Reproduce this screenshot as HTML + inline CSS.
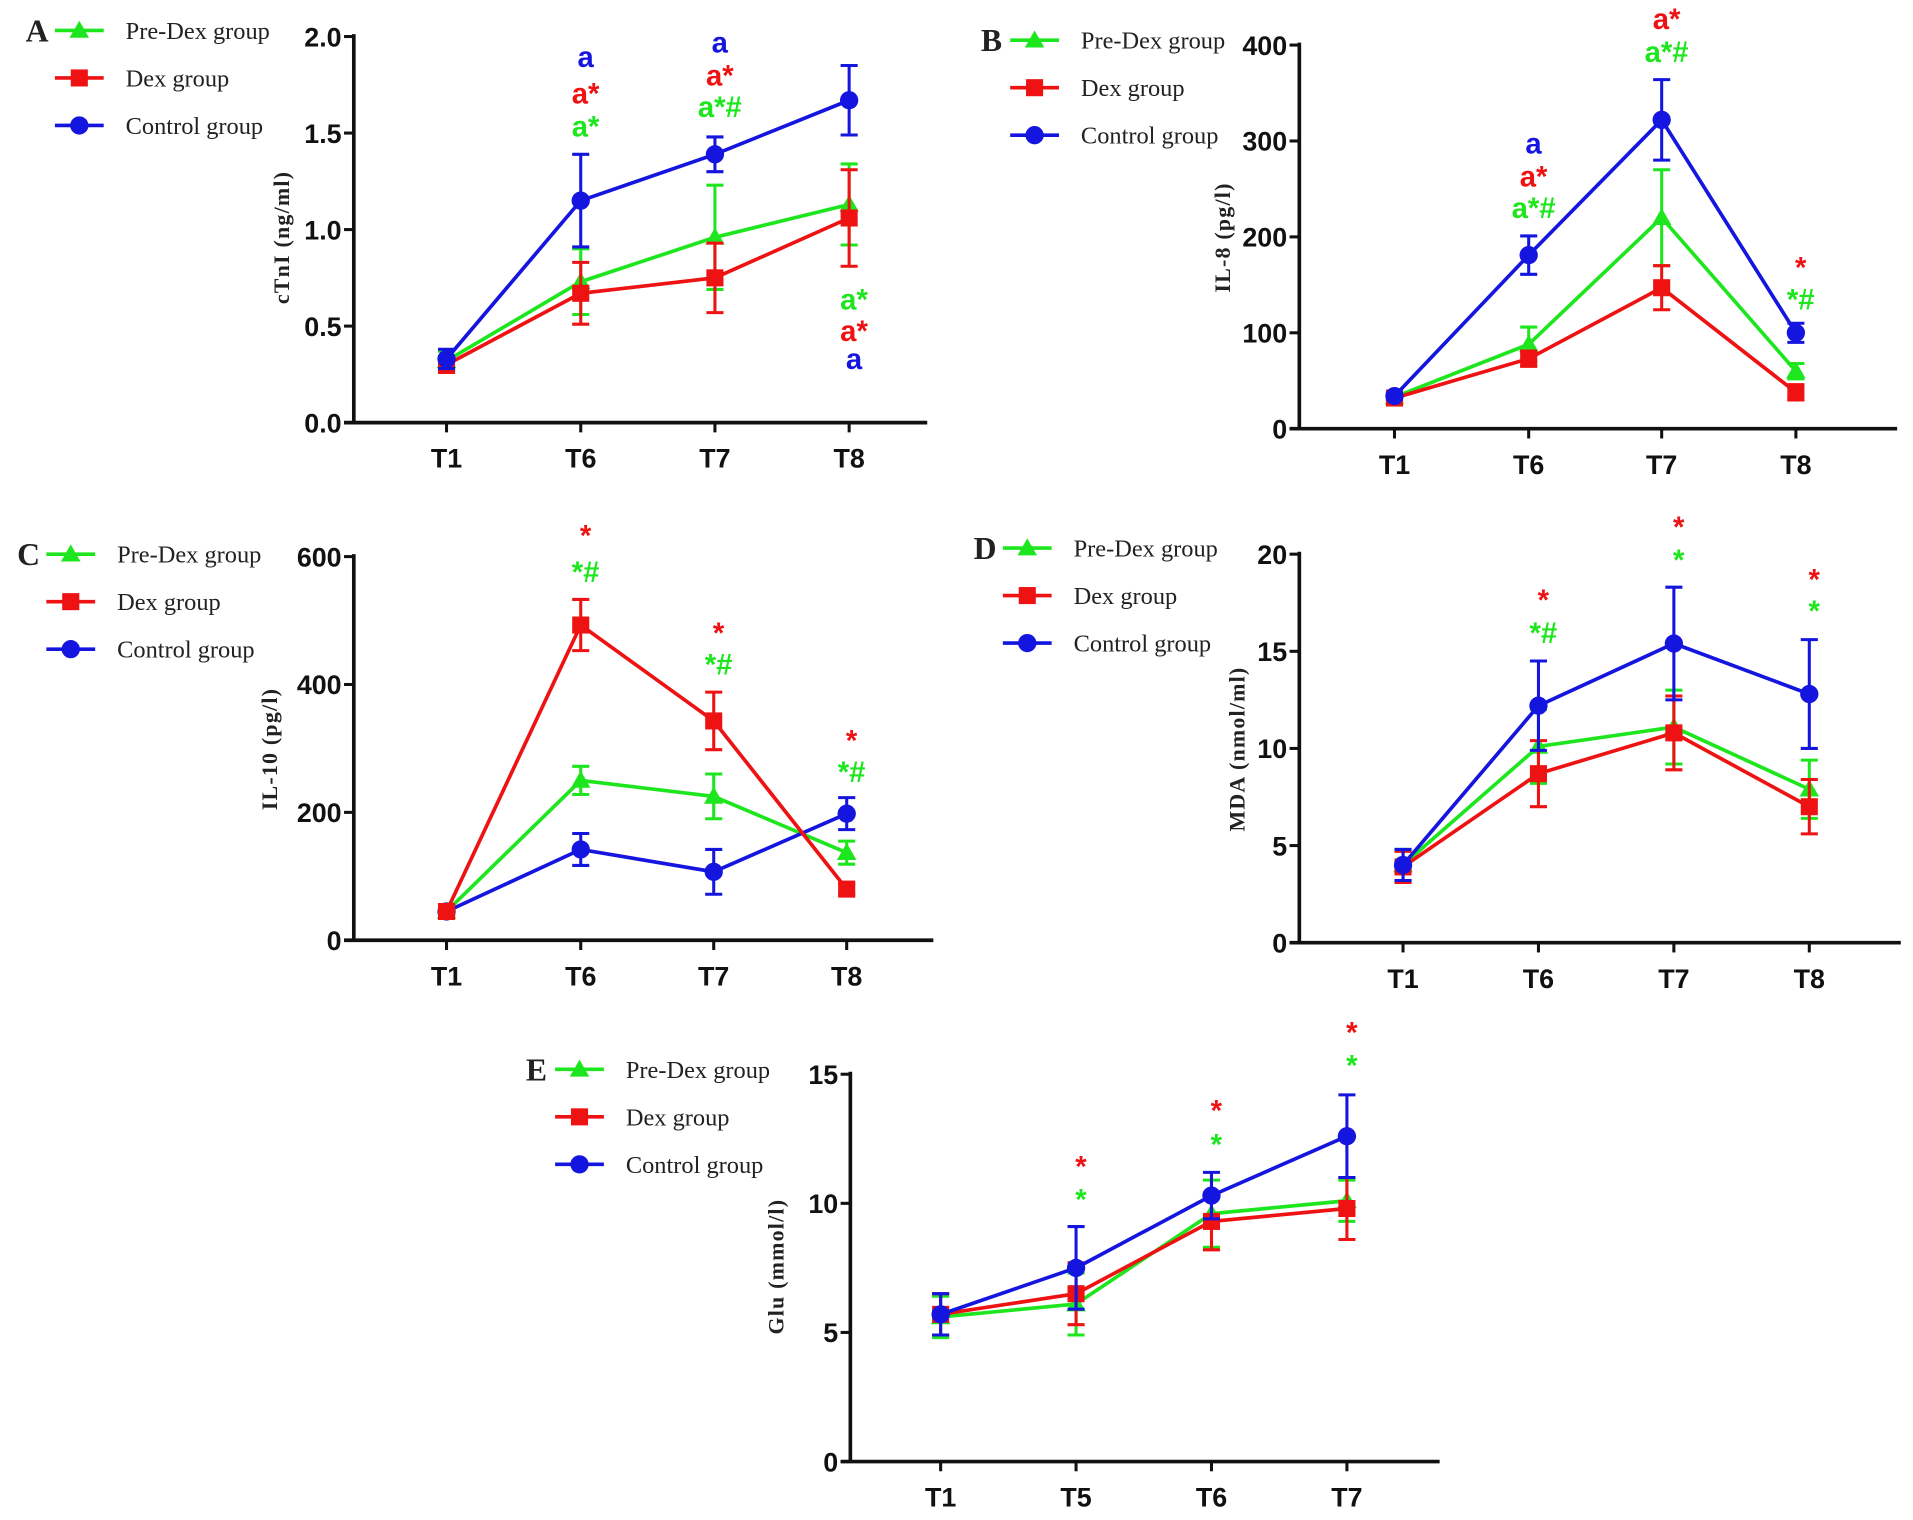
<!DOCTYPE html>
<html><head><meta charset="utf-8"><style>
html,body{margin:0;padding:0;background:#fff;}
svg{display:block;}
text{font-family:"Liberation Sans",Arial,sans-serif;}
.serif{font-family:"Liberation Serif","Times New Roman",serif;}
</style></head><body>
<svg id="fig" width="1913" height="1520" viewBox="0 0 1568 1248" preserveAspectRatio="none" xmlns="http://www.w3.org/2000/svg"></svg>
<script>
// ---- Data ----
const catsA = ["T1","T6","T7","T8"];
const preA = [0.32,0.73,0.96,1.13], preAErr=[0.05,0.17,0.27,0.21];
const dexA = [0.30,0.67,0.75,1.06], dexAErr=[0.04,0.16,0.18,0.25];
const conA = [0.33,1.15,1.39,1.67], conAErr=[0.05,0.24,0.09,0.18];
const ticksA = [0,0.5,1.0,1.5,2.0], tickLabA=["0.0","0.5","1.0","1.5","2.0"];

const catsB = ["T1","T6","T7","T8"];
const preB = [33,88,220,60], preBErr=[3,18,50,8];
const dexB = [32,73,147,38], dexBErr=[3,8,23,8];
const conB = [34,181,322,100], conBErr=[3,20,42,10];
const ticksB = [0,100,200,300,400], tickLabB=["0","100","200","300","400"];

const catsC = ["T1","T6","T7","T8"];
const preC = [45,250,225,137], preCErr=[5,22,35,18];
const dexC = [45,493,343,80], dexCErr=[5,40,45,8];
const conC = [45,142,107,198], conCErr=[5,25,35,25];
const ticksC = [0,200,400,600], tickLabC=["0","200","400","600"];

const catsD = ["T1","T6","T7","T8"];
const preD = [4.0,10.1,11.1,7.9], preDErr=[0.8,1.9,1.9,1.5];
const dexD = [3.9,8.7,10.8,7.0], dexDErr=[0.8,1.7,1.9,1.4];
const conD = [4.0,12.2,15.4,12.8], conDErr=[0.8,2.3,2.9,2.8];
const ticksD = [0,5,10,15,20], tickLabD=["0","5","10","15","20"];

const catsE = ["T1","T5","T6","T7"];
const preE = [5.6,6.1,9.6,10.1], preEErr=[0.8,1.2,1.3,0.8];
const dexE = [5.7,6.5,9.3,9.8], dexEErr=[0.8,1.2,1.1,1.2];
const conE = [5.7,7.5,10.3,12.6], conEErr=[0.8,1.6,0.9,1.6];
const ticksE = [0,5,10,15], tickLabE=["0","5","10","15"];

const G="#1ee61e", R="#ee1212", B="#1515e0";
const svg=document.getElementById('fig');
const NS="http://www.w3.org/2000/svg";
function mk(tag,attrs,parent){const e=document.createElementNS(NS,tag);for(const k in attrs)e.setAttribute(k,attrs[k]);(parent||svg).appendChild(e);return e;}

function marker(g,shape,x,y,c){
  let m;
  if(shape==='tri') m=mk('polygon',{points:`${x},${y-8} ${x-8},${y+6} ${x+8},${y+6}`,fill:c},g);
  else if(shape==='sq') m=mk('rect',{x:x-7,y:y-7,width:14,height:14,fill:c},g);
  else m=mk('circle',{cx:x,cy:y,r:7.5,fill:c},g);
  
  
}

function panel(p){
  const g=mk('g',{});
  
  
  const ymax=p.ticks[p.ticks.length-1];
  const Y=v=>p.y0-(v/ymax)*(p.y0-p.ytop);
  const X=i=>p.xs[i];
  // axes
  const ya=mk('line',{x1:p.ax,y1:p.ytop-2,x2:p.ax,y2:p.y0+1,stroke:'#111','stroke-width':3},g);
  
  const xa=mk('line',{x1:p.ax-8,y1:p.y0,x2:p.xend,y2:p.y0,stroke:'#111','stroke-width':3},g);
  
  p.ticks.forEach((t,i)=>{
    mk('line',{x1:p.ax-8,y1:Y(t),x2:p.ax,y2:Y(t),stroke:'#111','stroke-width':2.5},g);
    const tl=mk('text',{x:p.ax-10,y:Y(t)+8,'text-anchor':'end','font-size':22,'font-weight':'bold',fill:'#111'},g);
    tl.textContent=p.tickLab[i];
    
  });
  p.cats.forEach((c,i)=>{
    mk('line',{x1:X(i),y1:p.y0,x2:X(i),y2:p.y0+8,stroke:'#111','stroke-width':2.5},g);
    const tl=mk('text',{x:X(i),y:p.y0+37,'text-anchor':'middle','font-size':22,'font-weight':'bold',fill:'#111'},g);
    tl.textContent=c;
    
  });
  const yt=mk('text',{x:0,y:0,'text-anchor':'middle','font-size':18,'font-weight':'bold',fill:'#222',class:'serif','letter-spacing':'1',transform:`translate(${p.titleX},${p.titleY}) rotate(-90)`},g);
  yt.textContent=p.title;
  
  // series
  p.series.forEach(s=>{
    const sg=mk('g',{},g);
    
    s.v.forEach((v,i)=>{
      const y1=Y(v+s.e[i]), y2=Y(v-s.e[i]);
      mk('line',{x1:X(i),y1:y1,x2:X(i),y2:y2,stroke:s.c,'stroke-width':2.5},sg);
      mk('line',{x1:X(i)-7,y1:y1,x2:X(i)+7,y2:y1,stroke:s.c,'stroke-width':2.5},sg);
      mk('line',{x1:X(i)-7,y1:y2,x2:X(i)+7,y2:y2,stroke:s.c,'stroke-width':2.5},sg);
    });
    const pts=s.v.map((v,i)=>X(i)+','+Y(v)).join(' ');
    const pl=mk('polyline',{points:pts,fill:'none',stroke:s.c,'stroke-width':3},sg);
    
    s.v.forEach((v,i)=>marker(sg,s.shape,X(i),Y(v),s.c));
  });
  // legend
  const lab=mk('text',{x:p.lx-24,y:p.ly+9,'font-size':26,'font-weight':'bold',fill:'#222',class:'serif'},g);
  lab.textContent=p.id;
  
  const leg=[["Pre-Dex group",G,'tri'],["Dex group",R,'sq'],["Control group",B,'circ']];
  leg.forEach((l,i)=>{
    const y=p.ly+i*39;
    const lg=mk('g',{},g);
    
    mk('line',{x1:p.lx,y1:y,x2:p.lx+40,y2:y,stroke:l[1],'stroke-width':3},lg);
    marker(lg,l[2],p.lx+20,y,l[1]);
    const t=mk('text',{x:p.lx+58,y:y+7,'font-size':20,fill:'#222',class:'serif'},lg);
    t.textContent=l[0];
  });
  // annotations
  p.ann.forEach(a=>{
    const t=mk('text',{x:X(a[0])+4,y:a[1]+8,'text-anchor':'middle','font-size':24,'font-weight':'bold',fill:a[3]},g);
    t.textContent=a[2];
    
  });
}

panel({id:'A',ax:290,ytop:30,y0:347,xend:760,xs:[366,476,586,696],cats:catsA,ticks:ticksA,tickLab:tickLabA,
  title:'cTnI (ng/ml)',titleX:237,titleY:195,lx:45,ly:25,
  series:[{name:'pre-dex-series',v:preA,e:preAErr,c:G,shape:'tri'},{name:'dex-series',v:dexA,e:dexAErr,c:R,shape:'sq'},{name:'control-series',v:conA,e:conAErr,c:B,shape:'circ'}],
  ann:[[1,47,'a',B],[1,77,'a*',R],[1,104,'a*',G],[2,35,'a',B],[2,62,'a*',R],[2,88,'a*#',G],[3,246,'a*',G],[3,272,'a*',R],[3,295,'a',B]]});
panel({id:'B',ax:1065,ytop:37,y0:352,xend:1555,xs:[1143,1253,1362,1472],cats:catsB,ticks:ticksB,tickLab:tickLabB,
  title:'IL-8 (pg/l)',titleX:1008,titleY:195,lx:828,ly:33,
  series:[{name:'pre-dex-series',v:preB,e:preBErr,c:G,shape:'tri'},{name:'dex-series',v:dexB,e:dexBErr,c:R,shape:'sq'},{name:'control-series',v:conB,e:conBErr,c:B,shape:'circ'}],
  ann:[[1,118,'a',B],[1,145,'a*',R],[1,171,'a*#',G],[2,16,'a*',R],[2,43,'a*#',G],[3,220,'*',R],[3,246,'*#',G]]});
panel({id:'C',ax:290,ytop:457,y0:772,xend:765,xs:[366,476,585,694],cats:catsC,ticks:ticksC,tickLab:tickLabC,
  title:'IL-10 (pg/l)',titleX:227,titleY:615,lx:38,ly:455,
  series:[{name:'pre-dex-series',v:preC,e:preCErr,c:G,shape:'tri'},{name:'control-series',v:conC,e:conCErr,c:B,shape:'circ'},{name:'dex-series',v:dexC,e:dexCErr,c:R,shape:'sq'}],
  ann:[[1,440,'*',R],[1,470,'*#',G],[2,520,'*',R],[2,546,'*#',G],[3,608,'*',R],[3,634,'*#',G]]});
panel({id:'D',ax:1065,ytop:455,y0:774,xend:1558,xs:[1150,1261,1372,1483],cats:catsD,ticks:ticksD,tickLab:tickLabD,
  title:'MDA (nmol/ml)',titleX:1020,titleY:615,lx:822,ly:450,
  series:[{name:'pre-dex-series',v:preD,e:preDErr,c:G,shape:'tri'},{name:'dex-series',v:dexD,e:dexDErr,c:R,shape:'sq'},{name:'control-series',v:conD,e:conDErr,c:B,shape:'circ'}],
  ann:[[1,493,'*',R],[1,520,'*#',G],[2,433,'*',R],[2,460,'*',G],[3,476,'*',R],[3,502,'*',G]]});
panel({id:'E',ax:697,ytop:882,y0:1200,xend:1180,xs:[771,882,993,1104],cats:catsE,ticks:ticksE,tickLab:tickLabE,
  title:'Glu (mmol/l)',titleX:642,titleY:1040,lx:455,ly:878,
  series:[{name:'pre-dex-series',v:preE,e:preEErr,c:G,shape:'tri'},{name:'dex-series',v:dexE,e:dexEErr,c:R,shape:'sq'},{name:'control-series',v:conE,e:conEErr,c:B,shape:'circ'}],
  ann:[[1,958,'*',R],[1,985,'*',G],[2,912,'*',R],[2,940,'*',G],[3,848,'*',R],[3,875,'*',G]]});
</script>
</body></html>
